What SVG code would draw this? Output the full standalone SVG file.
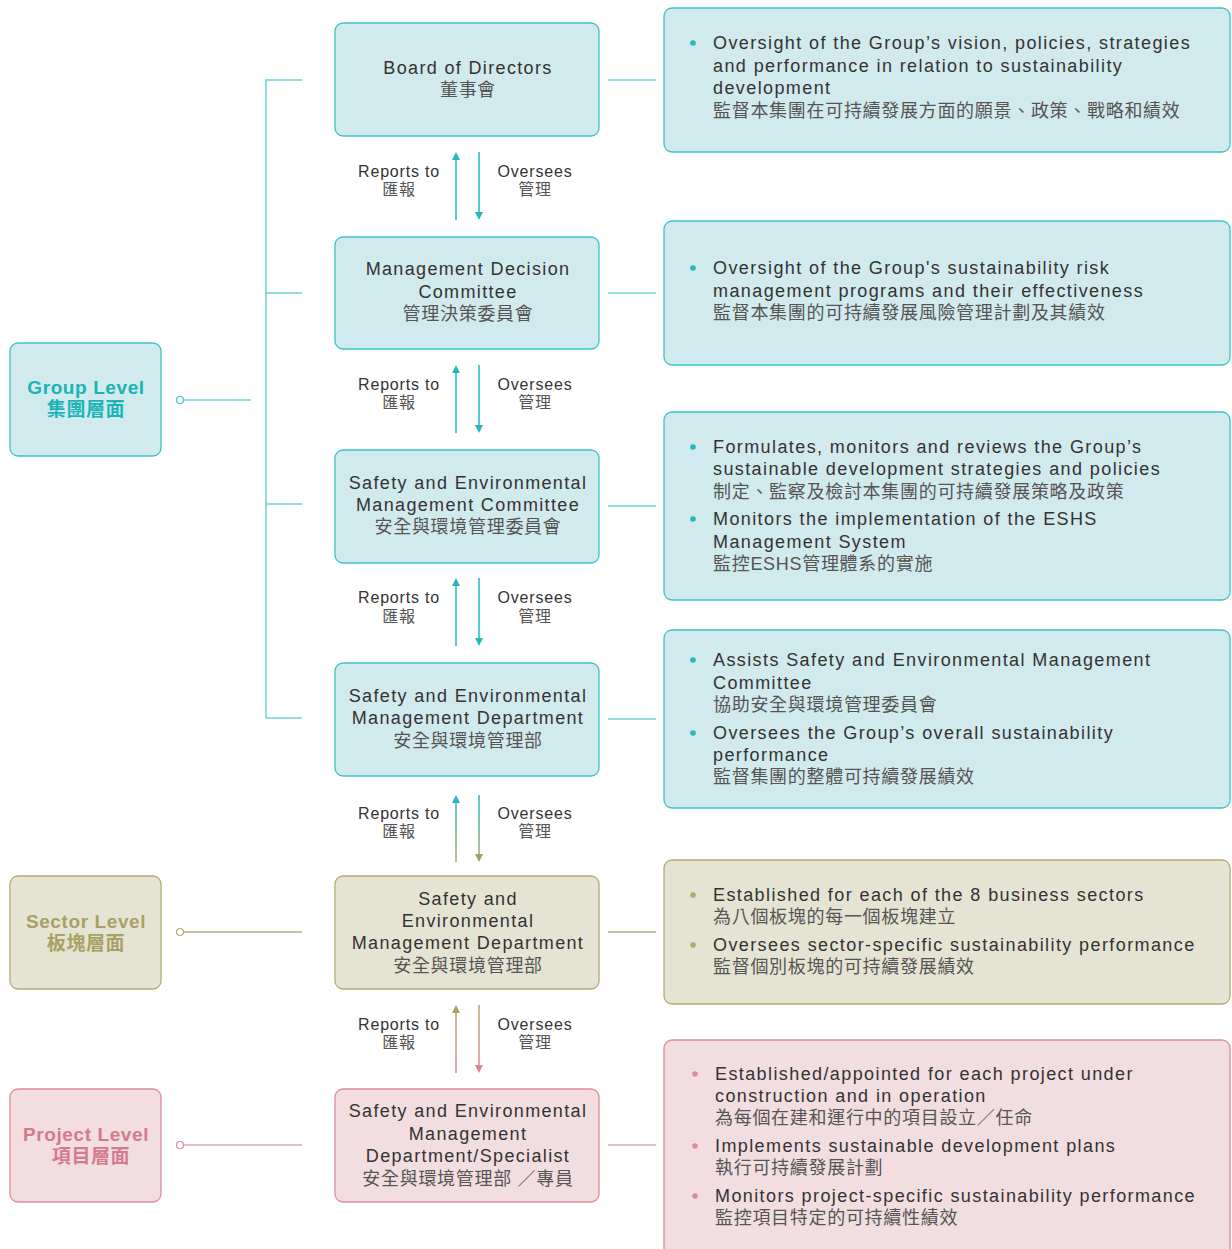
<svg xmlns="http://www.w3.org/2000/svg" width="1232" height="1249" viewBox="0 0 1232 1249">
<style>
  .t{fill:#d1eaed;stroke:#3cc3c6;stroke-width:1.3}
  .o{fill:#e5e4d3;stroke:#b3ab74;stroke-width:1.3}
  .p{fill:#f2dde0;stroke:#dc8c9a;stroke-width:1.3}
  text{font-family:"Liberation Sans","Noto Sans CJK TC",sans-serif;font-size:18px;fill:#333;letter-spacing:1.4px}
  .c{text-anchor:middle;letter-spacing:1.35px}
  .zh{fill:#555;letter-spacing:0.7px}
  .lvl{font-weight:bold;font-size:19px;text-anchor:middle;letter-spacing:0.6px}
  .sm{font-size:16px;letter-spacing:0.8px}
  .lt{stroke:#6fd3d5;stroke-width:1.5;fill:none}
  .lo{stroke:#b3ab74;stroke-width:1.3;fill:none}
  .lp{stroke:#e0a8b2;stroke-width:1.3;fill:none}
</style>
<defs>
  <marker id="at" markerWidth="8" markerHeight="8" refX="4" refY="4" orient="auto" markerUnits="userSpaceOnUse"><path d="M0,0 L8,4 L0,8 z" fill="#22b8bc"/></marker>
  <marker id="ao" markerWidth="8" markerHeight="8" refX="4" refY="4" orient="auto" markerUnits="userSpaceOnUse"><path d="M0,0 L8,4 L0,8 z" fill="#a8a060"/></marker>
  <marker id="ap" markerWidth="8" markerHeight="8" refX="4" refY="4" orient="auto" markerUnits="userSpaceOnUse"><path d="M0,0 L8,4 L0,8 z" fill="#d98596"/></marker>
  <linearGradient id="g1" gradientUnits="userSpaceOnUse" x1="0" y1="795" x2="0" y2="862"><stop offset="0" stop-color="#22b8bc"/><stop offset="1" stop-color="#aea66e"/></linearGradient>
  <linearGradient id="g2" gradientUnits="userSpaceOnUse" x1="0" y1="1005" x2="0" y2="1073"><stop offset="0" stop-color="#aea66e"/><stop offset="1" stop-color="#dc8c9a"/></linearGradient>
</defs>

<g id="connectors">
  <path class="lt" d="M302,80 H266 V718 H302 M266,293 H302 M266,504 H302"/>
  <circle cx="180" cy="400" r="3.5" fill="#fff" stroke="#3cc3c6" stroke-width="1.2"/>
  <line class="lt" x1="183.5" y1="400" x2="251" y2="400"/>
  <circle cx="180" cy="932" r="3.5" fill="#fff" stroke="#b3ab74" stroke-width="1.2"/>
  <line class="lo" x1="183.5" y1="932" x2="302" y2="932"/>
  <circle cx="180" cy="1145" r="3.5" fill="#fff" stroke="#dc8c9a" stroke-width="1.2"/>
  <line class="lp" x1="183.5" y1="1145" x2="302" y2="1145"/>
  <line class="lt" x1="608" y1="80" x2="656" y2="80"/>
  <line class="lt" x1="608" y1="293" x2="656" y2="293"/>
  <line class="lt" x1="608" y1="506" x2="656" y2="506"/>
  <line class="lt" x1="608" y1="719" x2="656" y2="719"/>
  <line class="lo" x1="608" y1="932" x2="656" y2="932"/>
  <line class="lp" x1="608" y1="1145" x2="656" y2="1145"/>
  <g stroke-width="1.5">
    <line x1="456" y1="220" x2="456" y2="156" stroke="#22b8bc" marker-end="url(#at)"/>
    <line x1="479" y1="152" x2="479" y2="216" stroke="#22b8bc" marker-end="url(#at)"/>
    <line x1="456" y1="433" x2="456" y2="369" stroke="#22b8bc" marker-end="url(#at)"/>
    <line x1="479" y1="365" x2="479" y2="429" stroke="#22b8bc" marker-end="url(#at)"/>
    <line x1="456" y1="646" x2="456" y2="582" stroke="#22b8bc" marker-end="url(#at)"/>
    <line x1="479" y1="578" x2="479" y2="642" stroke="#22b8bc" marker-end="url(#at)"/>
    <line x1="456" y1="862" x2="456" y2="799" stroke="url(#g1)" marker-end="url(#at)"/>
    <line x1="479" y1="795" x2="479.01" y2="858" stroke="url(#g1)" marker-end="url(#ao)"/>
    <line x1="456" y1="1073" x2="456" y2="1009" stroke="url(#g2)" marker-end="url(#ao)"/>
    <line x1="479" y1="1005" x2="479.01" y2="1069" stroke="url(#g2)" marker-end="url(#ap)"/>
  </g>
  <g>
    <text class="c sm" x="399" y="177">Reports to</text><text class="c sm zh" x="399" y="195">匯報</text>
    <text class="c sm" x="535" y="177">Oversees</text><text class="c sm zh" x="535" y="195">管理</text>
    <text class="c sm" x="399" y="390">Reports to</text><text class="c sm zh" x="399" y="408">匯報</text>
    <text class="c sm" x="535" y="390">Oversees</text><text class="c sm zh" x="535" y="408">管理</text>
    <text class="c sm" x="399" y="603">Reports to</text><text class="c sm zh" x="399" y="622">匯報</text>
    <text class="c sm" x="535" y="603">Oversees</text><text class="c sm zh" x="535" y="622">管理</text>
    <text class="c sm" x="399" y="819">Reports to</text><text class="c sm zh" x="399" y="837">匯報</text>
    <text class="c sm" x="535" y="819">Oversees</text><text class="c sm zh" x="535" y="837">管理</text>
    <text class="c sm" x="399" y="1030">Reports to</text><text class="c sm zh" x="399" y="1048">匯報</text>
    <text class="c sm" x="535" y="1030">Oversees</text><text class="c sm zh" x="535" y="1048">管理</text>
  </g>
</g>

<g id="group-level">
  <rect class="t" x="10" y="343" width="151" height="113" rx="8"/>
  <text class="lvl" x="86" y="394" style="fill:#1ab4b6">Group Level</text>
  <text class="lvl" x="86" y="416" style="fill:#1ab4b6">集團層面</text>
</g>
<g id="sector-level">
  <rect class="o" x="10" y="876" width="151" height="113" rx="8"/>
  <text class="lvl" x="86" y="928" style="fill:#a9a163">Sector Level</text>
  <text class="lvl" x="86" y="950" style="fill:#a9a163">板塊層面</text>
</g>
<g id="project-level">
  <rect class="p" x="10" y="1089" width="151" height="113" rx="8"/>
  <text class="lvl" x="86" y="1141" style="fill:#d47a8b">Project Level</text>
  <text class="lvl" x="91" y="1163" style="fill:#d47a8b">項目層面</text>
</g>

<g id="board">
  <rect class="t" x="335" y="23" width="264" height="113" rx="8"/>
  <text class="c" x="468" y="74">Board of Directors</text>
  <text class="c zh" x="468" y="96">董事會</text>
</g>
<g id="mdc">
  <rect class="t" x="335" y="237" width="264" height="112" rx="8"/>
  <text class="c" x="468" y="275">Management Decision</text>
  <text class="c" x="468" y="298">Committee</text>
  <text class="c zh" x="468" y="320">管理決策委員會</text>
</g>
<g id="semc">
  <rect class="t" x="335" y="450" width="264" height="113" rx="8"/>
  <text class="c" x="468" y="489">Safety and Environmental</text>
  <text class="c" x="468" y="511">Management Committee</text>
  <text class="c zh" x="468" y="533">安全與環境管理委員會</text>
</g>
<g id="semd-group">
  <rect class="t" x="335" y="663" width="264" height="113" rx="8"/>
  <text class="c" x="468" y="702">Safety and Environmental</text>
  <text class="c" x="468" y="724">Management Department</text>
  <text class="c zh" x="468" y="747">安全與環境管理部</text>
</g>
<g id="semd-sector">
  <rect class="o" x="335" y="876" width="264" height="113" rx="8"/>
  <text class="c" x="468" y="905">Safety and</text>
  <text class="c" x="468" y="927">Environmental</text>
  <text class="c" x="468" y="949">Management Department</text>
  <text class="c zh" x="468" y="972">安全與環境管理部</text>
</g>
<g id="semd-project">
  <rect class="p" x="335" y="1089" width="264" height="113" rx="8"/>
  <text class="c" x="468" y="1117">Safety and Environmental</text>
  <text class="c" x="468" y="1140">Management</text>
  <text class="c" x="468" y="1162">Department/Specialist</text>
  <text class="c zh" x="468" y="1185">安全與環境管理部 ／專員</text>
</g>

<g id="desc-board">
  <rect class="t" x="664" y="8" width="566" height="144" rx="8"/>
  <circle cx="693" cy="43" r="2.8" fill="#22b8bc"/>
  <text x="713" y="49">Oversight of the Group’s vision, policies, strategies</text>
  <text x="713" y="72">and performance in relation to sustainability</text>
  <text x="713" y="94">development</text>
  <text class="zh" x="713" y="117">監督本集團在可持續發展方面的願景、政策、戰略和績效</text>
</g>
<g id="desc-mdc">
  <rect class="t" x="664" y="221" width="566" height="144" rx="8"/>
  <circle cx="693" cy="268" r="2.8" fill="#22b8bc"/>
  <text x="713" y="274">Oversight of the Group's sustainability risk</text>
  <text x="713" y="297">management programs and their effectiveness</text>
  <text class="zh" x="713" y="319">監督本集團的可持續發展風險管理計劃及其績效</text>
</g>
<g id="desc-semc">
  <rect class="t" x="664" y="412" width="566" height="188" rx="8"/>
  <circle cx="693" cy="447" r="2.8" fill="#22b8bc"/>
  <text x="713" y="453">Formulates, monitors and reviews the Group’s</text>
  <text x="713" y="475">sustainable development strategies and policies</text>
  <text class="zh" x="713" y="498">制定、監察及檢討本集團的可持續發展策略及政策</text>
  <circle cx="693" cy="519" r="2.8" fill="#22b8bc"/>
  <text x="713" y="525">Monitors the implementation of the ESHS</text>
  <text x="713" y="548">Management System</text>
  <text class="zh" x="713" y="570">監控ESHS管理體系的實施</text>
</g>
<g id="desc-semd-group">
  <rect class="t" x="664" y="630" width="566" height="178" rx="8"/>
  <circle cx="693" cy="660" r="2.8" fill="#22b8bc"/>
  <text x="713" y="666">Assists Safety and Environmental Management</text>
  <text x="713" y="689">Committee</text>
  <text class="zh" x="713" y="711">協助安全與環境管理委員會</text>
  <circle cx="693" cy="733" r="2.8" fill="#22b8bc"/>
  <text x="713" y="739">Oversees the Group’s overall sustainability</text>
  <text x="713" y="761">performance</text>
  <text class="zh" x="713" y="783">監督集團的整體可持續發展績效</text>
</g>
<g id="desc-semd-sector">
  <rect class="o" x="664" y="860" width="566" height="144" rx="8"/>
  <circle cx="693" cy="895" r="2.8" fill="#aea66e"/>
  <text x="713" y="901">Established for each of the 8 business sectors</text>
  <text class="zh" x="713" y="923">為八個板塊的每一個板塊建立</text>
  <circle cx="693" cy="945" r="2.8" fill="#aea66e"/>
  <text x="713" y="951">Oversees sector-specific sustainability performance</text>
  <text class="zh" x="713" y="973">監督個別板塊的可持續發展績效</text>
</g>
<g id="desc-semd-project">
  <rect class="p" x="664" y="1040" width="566" height="220" rx="8"/>
  <circle cx="695" cy="1074" r="2.8" fill="#dc8c9a"/>
  <text x="715" y="1080">Established/appointed for each project under</text>
  <text x="715" y="1102">construction and in operation</text>
  <text class="zh" x="715" y="1124">為每個在建和運行中的項目設立／任命</text>
  <circle cx="695" cy="1146" r="2.8" fill="#dc8c9a"/>
  <text x="715" y="1152">Implements sustainable development plans</text>
  <text class="zh" x="715" y="1174">執行可持續發展計劃</text>
  <circle cx="695" cy="1196" r="2.8" fill="#dc8c9a"/>
  <text x="715" y="1202">Monitors project-specific sustainability performance</text>
  <text class="zh" x="715" y="1224">監控項目特定的可持續性績效</text>
</g>
</svg>
